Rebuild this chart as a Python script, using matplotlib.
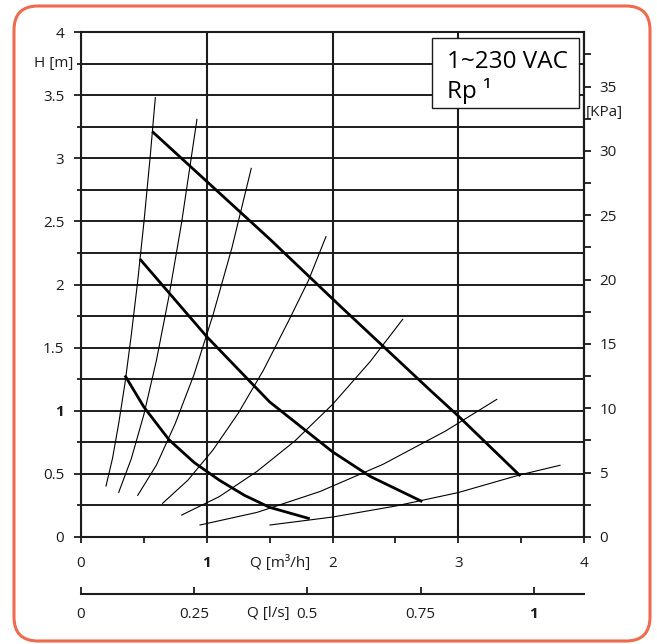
import numpy as np
import matplotlib.pyplot as plt
from matplotlib.patches import FancyBboxPatch, Rectangle
from matplotlib.ticker import MultipleLocator
from matplotlib.transforms import blended_transform_factory

plt.rcParams['font.family'] = ['Open Sans', 'DejaVu Sans']

# pump curves (Q in m3/h, H in m)
pump_hi_q = [0.575, 1.503, 2.060, 2.775, 3.006, 3.486]
pump_hi_h = [3.204, 2.358, 1.830, 1.164, 0.953, 0.491]
pump_mid_q = [0.475, 1.0, 1.5, 2.0, 2.3, 2.704]
pump_mid_h = [2.194, 1.587, 1.07, 0.675, 0.48, 0.285]
pump_lo_q = [0.355, 0.5, 0.7, 0.9, 1.1, 1.3, 1.5, 1.808]
pump_lo_h = [1.27, 1.03, 0.77, 0.59, 0.45, 0.33, 0.235, 0.148]

# system curves
sys_q = [
    [0.199, 0.25, 0.3, 0.35, 0.4, 0.45, 0.5, 0.55, 0.591],
    [0.3, 0.4, 0.5, 0.6, 0.7, 0.8, 0.922],
    [0.451, 0.6, 0.75, 0.9, 1.05, 1.2, 1.354],
    [0.649, 0.85, 1.05, 1.25, 1.45, 1.65, 1.808, 1.948],
    [0.801, 1.1, 1.4, 1.7, 2.0, 2.3, 2.558],
    [0.946, 1.4, 1.9, 2.4, 2.9, 3.306],
    [1.503, 2.0, 2.5, 3.0, 3.486, 3.809],
]
sys_h = [
    [0.404, 0.62, 0.9, 1.22, 1.6, 2.02, 2.49, 3.01, 3.48],
    [0.354, 0.62, 0.97, 1.40, 1.91, 2.49, 3.308],
    [0.33, 0.57, 0.9, 1.29, 1.76, 2.29, 2.92],
    [0.267, 0.45, 0.69, 0.98, 1.32, 1.71, 2.03, 2.379],
    [0.174, 0.32, 0.52, 0.76, 1.05, 1.39, 1.724],
    [0.095, 0.195, 0.36, 0.575, 0.84, 1.09],
    [0.095, 0.158, 0.245, 0.352, 0.491, 0.568],
]

h_ticks = [0, 0.5, 1, 1.5, 2, 2.5, 3, 3.5, 4]
h_labels = ['0', '0.5', '1', '1.5', '2', '2.5', '3', '3.5', '4']
q_ticks = [0, 1, 2, 3, 4]
q_labels = ['0', '1', '2', '3', '4']
kpa_ticks = [0, 5, 10, 15, 20, 25, 30, 35]
ls_ticks = [0, 0.25, 0.5, 0.75, 1]
ls_labels = ['0', '0.25', '0.5', '0.75', '1']

ink = '#1c1c1c'

fig = plt.figure(figsize=(6.57, 6.44), dpi=100)
ax = fig.add_axes([81/657, 107/644, 503/657, 505/644])
ax.set_xlim(0, 4)
ax.set_ylim(0, 4)

ax.set_xticks(q_ticks)
ax.set_xticklabels(q_labels)
ax.xaxis.set_minor_locator(MultipleLocator(0.5))
ax.set_yticks(h_ticks)
ax.set_yticklabels(h_labels)
ax.yaxis.set_minor_locator(MultipleLocator(0.25))

ax.grid(axis='y', which='both', color=ink, lw=1.4)
ax.grid(axis='x', which='major', color=ink, lw=1.5)
ax.set_axisbelow(True)
for s in ax.spines.values():
    s.set_linewidth(1.5)
    s.set_color(ink)

ax.tick_params(axis='x', which='both', direction='out', length=4.5, width=1.3,
               color=ink, labelcolor=ink, pad=9, labelsize=11)
ax.tick_params(axis='y', which='major', length=5, width=1.3, color=ink,
               labelcolor=ink, pad=7, labelsize=11)
ax.tick_params(axis='y', which='minor', length=3, width=1.3, color=ink)

for q, h in zip(sys_q, sys_h):
    ax.plot(q, h, color='black', lw=0.8, zorder=3)
ax.plot(pump_hi_q, pump_hi_h, color='black', lw=2.0, zorder=4)
ax.plot(pump_mid_q, pump_mid_h, color='black', lw=2.0, zorder=4)
ax.plot(pump_lo_q, pump_lo_h, color='black', lw=2.0, zorder=4)

# right axis in kPa
sec = ax.secondary_yaxis('right', functions=(lambda h: h * 9.81, lambda p: p / 9.81))
sec.set_yticks(kpa_ticks)
sec.set_yticklabels([str(k) for k in kpa_ticks])
sec.yaxis.set_minor_locator(MultipleLocator(2.5))
sec.tick_params(which='major', length=5, width=1.3, color=ink, labelcolor=ink,
                pad=6, labelsize=11)
sec.tick_params(which='minor', length=5, width=1.3, color=ink)
sec.spines['right'].set_linewidth(1.5)

# second flow axis in l/s
secx = ax.secondary_xaxis(-0.113, functions=(lambda q: q / 3.6, lambda l: l * 3.6))
secx.set_xticks(ls_ticks)
secx.set_xticklabels(ls_labels)
secx.tick_params(direction='in', length=5, width=1.3, color=ink, labelcolor=ink,
                 pad=9, labelsize=11)
secx.spines['bottom'].set_linewidth(1.5)
secx.spines['bottom'].set_color(ink)

# the "1" labels are drawn heavier in the original
for lab in ax.get_xticklabels() + ax.get_yticklabels() + secx.get_xticklabels():
    if lab.get_text() == '1':
        lab.set_fontweight('bold')

tr = blended_transform_factory(ax.transData, ax.transAxes)
ax.text(1.58, -0.0515, 'Q [m³/h]', transform=tr, ha='center', va='center',
        fontsize=11, color=ink)
ax.text(1.487, -0.1505, 'Q [l/s]', transform=tr, ha='center', va='center',
        fontsize=11, color=ink)
tr2 = blended_transform_factory(ax.transAxes, ax.transData)
ax.text(-0.016, 3.75, 'H [m]', transform=tr2, ha='right', va='center',
        fontsize=11, color=ink)
ax.text(1.004, 3.36, '[KPa]', transform=tr2, ha='left', va='center',
        fontsize=11, color=ink)

ax.add_patch(Rectangle((2.794, 3.396), 1.169, 0.554, facecolor='white',
                       edgecolor=ink, lw=1.0, zorder=5))
ax.text(0.727, 0.9287, '1~230 VAC', transform=ax.transAxes, ha='left',
        va='baseline', fontsize=17.5, color='black', zorder=6)
ax.text(0.727, 0.8693, 'Rp ¹', transform=ax.transAxes, ha='left',
        va='baseline', fontsize=17.5, color='black', zorder=6)

border = FancyBboxPatch((0.14, 0.03), 6.36, 6.35,
                        boxstyle='round,pad=0,rounding_size=0.24',
                        transform=fig.dpi_scale_trans, fill=False,
                        edgecolor='#EE6B4F', lw=2.2)
fig.add_artist(border)

fig.savefig('out.png', dpi=100)
